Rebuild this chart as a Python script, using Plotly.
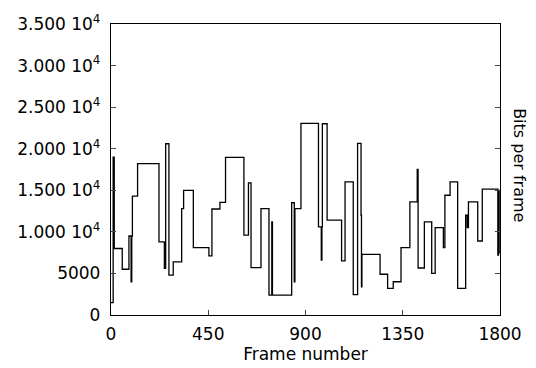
import plotly.graph_objects as go

# Step series: frame where each level starts, and the bits-per-frame level
frame_start = [0, 10, 15, 52, 83, 93, 96, 99, 123, 222, 247, 253, 268, 288, 327, 336,
               381, 453, 467, 504, 530, 615, 636, 648, 694, 731, 744, 747, 836, 848,
               851, 879, 960, 973, 976, 978, 1000, 1067, 1083, 1121, 1141, 1157, 1159,
               1161, 1245, 1280, 1306, 1342, 1383, 1417, 1421, 1450, 1484, 1500, 1538,
               1545, 1569, 1604, 1641, 1648, 1654, 1697, 1718, 1790, 1793, 1796, 1800]
bits = [1500, 19000, 8000, 5500, 9500, 4000, 9500, 14300, 18200, 8800, 5600, 20600,
        4800, 6400, 12800, 15000, 8100, 7100, 12750, 13550, 18950, 9600, 15900, 5700,
        12800, 2400, 11200, 2400, 13500, 4000, 12800, 23050, 10600, 6600, 10600, 23000,
        11400, 6500, 16000, 2450, 20650, 12000, 3400, 7300, 4900, 3200, 4000, 8100,
        13600, 17500, 5650, 11200, 5000, 10500, 8100, 14400, 16000, 3200, 12000, 10500,
        13600, 8900, 15150, 7200, 15000, 7500, 7500]

x_ticks = [0, 450, 900, 1350, 1800]
y_ticks = [0, 5000, 10000, 15000, 20000, 25000, 30000, 35000]
y_tick_labels = ["0", "5000", "1.000 10<sup>4</sup>", "1.500 10<sup>4</sup>",
                 "2.000 10<sup>4</sup>", "2.500 10<sup>4</sup>", "3.000 10<sup>4</sup>",
                 "3.500 10<sup>4</sup>"]

FONT = "DejaVu Sans, Verdana, sans-serif"

fig = go.Figure()
fig.add_trace(go.Scatter(x=frame_start, y=bits, mode="lines", line_shape="hv",
                         line=dict(color="black", width=1.3), showlegend=False))

fig.update_layout(
    width=536, height=368,
    margin=dict(l=111, r=36, t=24, b=53),
    paper_bgcolor="white", plot_bgcolor="white",
    font=dict(family=FONT, size=17, color="black"),
    xaxis=dict(range=[0, 1800], tickvals=x_ticks, ticks="inside", ticklen=5,
               showline=True, linecolor="black", linewidth=1.3, mirror=True,
               showgrid=False, zeroline=False, automargin=False,
               tickfont=dict(size=17), ticklabelstandoff=3,
               title=dict(text="Frame number", standoff=2, font=dict(size=17))),
    yaxis=dict(range=[0, 35000], tickvals=y_ticks, ticktext=y_tick_labels,
               ticks="inside", ticklen=5, showline=True, linecolor="black",
               linewidth=1.3, mirror="ticks", showgrid=False, zeroline=False,
               automargin=False, tickfont=dict(size=17), ticklabelstandoff=6),
    annotations=[dict(text="Bits per frame", x=1.0, xref="paper", xanchor="center",
                      xshift=20, y=0.515, yref="paper", yanchor="middle",
                      textangle=90, showarrow=False,
                      font=dict(size=16, family=FONT))],
)

fig.write_html("out.html", config={"displayModeBar": False},
               post_script="document.body.style.margin='0';document.body.style.padding='0';")
